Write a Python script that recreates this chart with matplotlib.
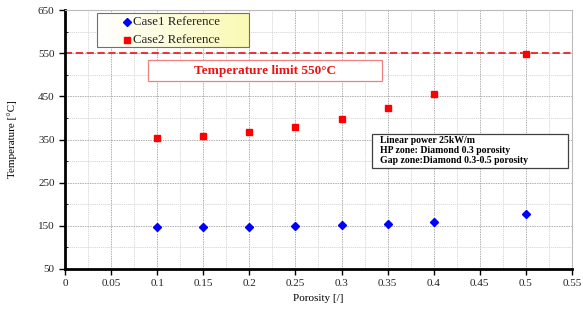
import matplotlib
matplotlib.use("Agg")
import matplotlib.pyplot as plt
from matplotlib.ticker import MultipleLocator, FixedLocator, FormatStrFormatter
from matplotlib.patches import Rectangle
import numpy as np

porosity = [0.1, 0.15, 0.2, 0.25, 0.3, 0.35, 0.4, 0.5]
case1 = [147, 147, 148, 149, 151, 154, 159, 177]
case2 = [353, 358, 367, 379, 397, 423, 455, 548]
temp_limit = 550

plt.rcParams['font.family'] = ['Liberation Serif', 'DejaVu Serif']

fig = plt.figure(figsize=(5.83, 3.13), dpi=100)
ax = fig.add_axes([0.1115, 0.1406, 0.8695, 0.8274])

# legend background gradient (white -> light yellow)
grad = np.linspace(0, 1, 256).reshape(1, -1)
c0 = np.array([1.0, 1.0, 1.0])
c1 = np.array([0.98, 0.98, 0.70])
img = (c0[None, None, :] * (1 - grad[..., None]) + c1[None, None, :] * grad[..., None])
lx0, lx1, ly0, ly1 = 0.0631, 0.363, 0.857, 0.988
ax.imshow(img, extent=[lx0, lx1, ly0, ly1], transform=ax.transAxes, aspect='auto', zorder=5)
ax.add_patch(Rectangle((lx0, ly0), lx1 - lx0, ly1 - ly0, transform=ax.transAxes,
                       facecolor='none', edgecolor='#707070', linewidth=0.8, zorder=6))

ax.set_xlim(0, 0.55)
ax.set_ylim(50, 650)
ax.xaxis.set_major_locator(MultipleLocator(0.05))
ax.xaxis.set_minor_locator(MultipleLocator(0.025))
ax.xaxis.set_major_formatter(FormatStrFormatter('%g'))
ax.yaxis.set_major_locator(FixedLocator([50, 150, 250, 350, 450, 550, 650]))
ax.yaxis.set_minor_locator(FixedLocator([100, 200, 300, 400, 500, 600]))

ax.grid(which='major', color='#b0b0b0', linestyle=(0, (1.5, 1)), linewidth=0.7)
ax.grid(which='minor', color='#d4d4d4', linestyle=(0, (1.5, 1)), linewidth=0.6)
ax.set_axisbelow(True)

for s in ['left', 'bottom']:
    ax.spines[s].set_linewidth(2)
    ax.spines[s].set_color('black')
for s in ['top', 'right']:
    ax.spines[s].set_color('#bbbbbb')
    ax.spines[s].set_linewidth(0.8)

ax.tick_params(which='major', direction='out', length=4, width=1, labelsize=8,
               colors='black', labelcolor='#222222')
ax.tick_params(which='minor', direction='out', length=0)
ax.tick_params(axis='y', which='minor', length=2, width=0.6, direction='in')

ax.axhline(temp_limit, color='#e8242a', linestyle=(0, (4, 2)), linewidth=1.3, zorder=2)

l1, = ax.plot(porosity, case1, linestyle='none', marker='D', color='#0000ff', markersize=4.5, label='Case1 Reference', zorder=3)
l2, = ax.plot(porosity, case2, linestyle='none', marker='s', color='#ff0000', markersize=5, label='Case2 Reference', zorder=3)

# manual legend entries
ax.plot([0.1223], [0.952], transform=ax.transAxes, marker='D', color='#0000ff', markersize=4.5,
        linestyle='none', clip_on=False, zorder=7)
ax.plot([0.1223], [0.886], transform=ax.transAxes, marker='s', color='#ff0000', markersize=5,
        linestyle='none', clip_on=False, zorder=7)
ax.text(0.134, 0.952, l1.get_label(), transform=ax.transAxes, ha='left', va='center',
        fontsize=9.3, color='#222222', zorder=7)
ax.text(0.134, 0.886, l2.get_label(), transform=ax.transAxes, ha='left', va='center',
        fontsize=9.3, color='#222222', zorder=7)

ax.set_xlabel('Porosity [/]', fontsize=8, labelpad=4)
ax.set_ylabel('Temperature [°C]', fontsize=8, labelpad=15)

# temperature limit box
ax.add_patch(Rectangle((0.1637, 0.726), 0.625 - 0.1637, 0.807 - 0.726, transform=ax.transAxes,
                       facecolor='white', edgecolor='#f08080', linewidth=0.9, zorder=4))
ax.text(0.394, 0.766, 'Temperature limit 550°C', transform=ax.transAxes,
        ha='center', va='center', fontsize=9.5, fontweight='bold', color='#ee1111', zorder=5)

# annotation box
ax.add_patch(Rectangle((0.6055, 0.39), 0.992 - 0.6055, 0.521 - 0.39, transform=ax.transAxes,
                       facecolor='white', edgecolor='#404040', linewidth=0.9, zorder=4))
ax.text(0.621, 0.4575, 'Linear power 25kW/m\nHP zone: Diamond 0.3 porosity\nGap zone:Diamond 0.3-0.5 porosity',
        transform=ax.transAxes, ha='left', va='center', fontsize=7, fontweight='bold',
        linespacing=1.2, color='black', zorder=5)

ax.set_xlim(0, 0.55)
ax.set_ylim(50, 650)
fig.savefig('out.png', dpi=100)
